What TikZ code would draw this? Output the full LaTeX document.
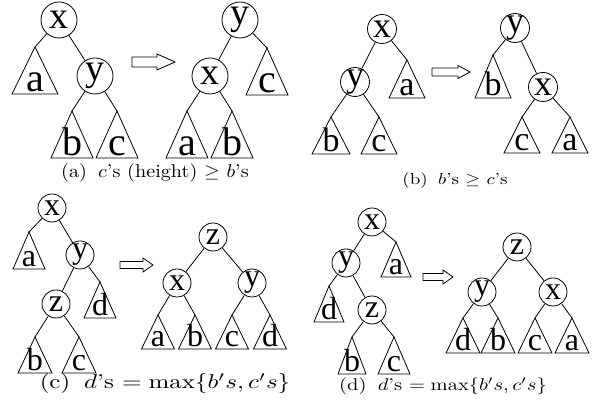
\documentclass[tikz,border=0pt]{standalone}
\usepackage{fontspec}
\newfontfamily\treefont{Liberation Serif}

\begin{document}
\begin{tikzpicture}[x=1pt,y=1pt,line width=0.8pt,
    avert/.style={circle,draw,inner sep=-2pt,minimum size=36pt,font=\treefont\fontsize{38}{38}\selectfont},
    bvert/.style={circle,draw,inner sep=-2pt,minimum size=29pt,font=\treefont\fontsize{36}{36}\selectfont},
    cvert/.style={circle,draw,inner sep=-2pt,minimum size=28pt,font=\treefont\fontsize{32}{32}\selectfont},
    aleaf/.style={anchor=base,inner sep=0pt,font=\treefont\fontsize{40}{40}\selectfont},
    bleaf/.style={anchor=base,inner sep=0pt,font=\treefont\fontsize{34}{34}\selectfont},
    cleaf/.style={anchor=base,inner sep=0pt,font=\treefont\fontsize{32}{32}\selectfont},
    subcap/.style={anchor=base,inner sep=0pt}]
  \useasboundingbox (0,0) rectangle (595,403);
  %
  \node[avert] (ax1) at (59,383) {x};
  \node[avert] (ay1) at (95,327) {y};
  \draw (35,356) coordinate (aa1) -- +(-23,-47) -- +(23,-47) -- cycle (35,311) node[aleaf] (laa1) {a};
  \draw (72,292) coordinate (ab1) -- +(-21,-47) -- +(21,-47) -- cycle (72,247) node[aleaf] (lab1) {b};
  \draw (117,292) coordinate (ac1) -- +(-21,-47) -- +(21,-47) -- cycle (117,247) node[aleaf] (lac1) {c};
  \draw (ax1) -- (aa1) (ax1) -- (ay1) (ay1) -- (ab1) (ay1) -- (ac1);
  %
  \draw (132,336) -- (157,336) -- (157,333) -- (175,341) -- (157,349) -- (157,346) -- (132,346) -- cycle;
  %
  \node[avert] (ay2) at (240,383) {y};
  \node[avert] (ax2) at (210,327) {x};
  \draw (267,355) coordinate (ac2) -- +(-21,-47) -- +(21,-47) -- cycle (267,310) node[aleaf] (lac2) {c};
  \draw (187,292) coordinate (aa2) -- +(-21,-47) -- +(21,-47) -- cycle (187,247) node[aleaf] (laa2) {a};
  \draw (232,292) coordinate (ab2) -- +(-21,-47) -- +(21,-47) -- cycle (232,247) node[aleaf] (lab2) {b};
  \draw (ay2) -- (ax2) (ay2) -- (ac2) (ax2) -- (aa2) (ax2) -- (ab2);
  %
  \node[subcap,xscale=2.02,yscale=1.85] (capa) at (155,225) {(a)\hspace{.55em}$c$'s (height) $\geq$ $b$'s};
  %
  \node[bvert] (bx1) at (382,374) {x};
  \node[bvert] (by1) at (355,321) {y};
  \draw (407,343) coordinate (ba1) -- +(-18,-38) -- +(18,-38) -- cycle (407,307) node[bleaf] (lba1) {a};
  \draw (331,286) coordinate (bb1) -- +(-19,-37) -- +(19,-37) -- cycle (331,251) node[bleaf] (lbb1) {b};
  \draw (379,286) coordinate (bc1) -- +(-18,-37) -- +(18,-37) -- cycle (379,251) node[bleaf] (lbc1) {c};
  \draw (bx1) -- (by1) (bx1) -- (ba1) (by1) -- (bb1) (by1) -- (bc1);
  %
  \draw (432,327) -- (458,327) -- (458,324.5) -- (470,331) -- (458,337.5) -- (458,335) -- (432,335) -- cycle;
  %
  \node[bvert] (by2) at (515,375) {y};
  \node[bvert] (bx2) at (543,316) {x};
  \draw (493,348) coordinate (bb2) -- +(-18,-43) -- +(18,-43) -- cycle (493,307) node[bleaf] (lbb2) {b};
  \draw (522,286) coordinate (bc2) -- +(-18,-36) -- +(18,-36) -- cycle (522,252) node[bleaf] (lbc2) {c};
  \draw (570,286) coordinate (ba2) -- +(-18,-36) -- +(18,-36) -- cycle (570,252) node[bleaf] (lba2) {a};
  \draw (by2) -- (bb2) (by2) -- (bx2) (bx2) -- (bc2) (bx2) -- (ba2);
  %
  \node[subcap,xscale=1.9,yscale=1.6] (capb) at (455,218) {(b)\hspace{.55em}$b$'s $\geq$ $c$'s};
  %
  \node[cvert] (cx1) at (52,195) {x};
  \node[cvert] (cy1) at (80,148) {y};
  \node[cvert] (cz1) at (56,99) {z};
  \draw (29,171) coordinate (ca1) -- +(-16,-37) -- +(16,-37) -- cycle (29,136) node[cleaf] (lca1) {a};
  \draw (100,121) coordinate (cd1) -- +(-16,-36) -- +(16,-36) -- cycle (100,87) node[cleaf] (lcd1) {d};
  \draw (35,66) coordinate (cb1) -- +(-17,-36) -- +(17,-36) -- cycle (35,32) node[cleaf] (lcb1) {b};
  \draw (79,66) coordinate (cc1) -- +(-17,-36) -- +(17,-36) -- cycle (79,32) node[cleaf] (lcc1) {c};
  \draw (cx1) -- (ca1) (cx1) -- (cy1) (cy1) -- (cz1) (cy1) -- (cd1) (cz1) -- (cb1) (cz1) -- (cc1);
  %
  \draw (120,134.5) -- (143,134.5) -- (143,131) -- (153,138) -- (143,145) -- (143,141.5) -- (120,141.5) -- cycle;
  %
  \node[cvert] (cz2) at (213,166) {z};
  \node[cvert] (cx2) at (177,120) {x};
  \node[cvert] (cy2) at (252,120) {y};
  \draw (158,88) coordinate (ca2) -- +(-16.5,-34) -- +(16.5,-34) -- cycle (158,56) node[cleaf] (lca2) {a};
  \draw (195,88) coordinate (cb2) -- +(-16.5,-34) -- +(16.5,-34) -- cycle (195,56) node[cleaf] (lcb2) {b};
  \draw (232,88) coordinate (cc2) -- +(-16.5,-34) -- +(16.5,-34) -- cycle (232,56) node[cleaf] (lcc2) {c};
  \draw (270,88) coordinate (cd2) -- +(-16.5,-34) -- +(16.5,-34) -- cycle (270,56) node[cleaf] (lcd2) {d};
  \draw (cz2) -- (cx2) (cz2) -- (cy2) (cx2) -- (ca2) (cx2) -- (cb2) (cy2) -- (cc2) (cy2) -- (cd2);
  %
  \node[subcap,xscale=2.5,yscale=2.0] (capc) at (165,14) {(c)\hspace{.55em}$d$'s $= \max\{b's, c's\}$};
  %
  \node[cvert] (dx1) at (372,181) {x};
  \node[cvert] (dy1) at (346,140) {y};
  \node[cvert] (dz1) at (372,93) {z};
  \draw (396,161) coordinate (da1) -- +(-15,-35) -- +(15,-35) -- cycle (396,128) node[cleaf] (lda1) {a};
  \draw (329,117) coordinate (dd1) -- +(-15,-36) -- +(15,-36) -- cycle (329,83) node[cleaf] (ldd1) {d};
  \draw (352,66) coordinate (db1) -- +(-14,-37) -- +(14,-37) -- cycle (352,31) node[cleaf] (ldb1) {b};
  \draw (394,66) coordinate (dc1) -- +(-16,-37) -- +(16,-37) -- cycle (394,31) node[cleaf] (ldc1) {c};
  \draw (dx1) -- (dy1) (dx1) -- (da1) (dy1) -- (dd1) (dy1) -- (dz1) (dz1) -- (db1) (dz1) -- (dc1);
  %
  \draw (423,122.5) -- (443,122.5) -- (443,119) -- (453,126) -- (443,133) -- (443,129.5) -- (423,129.5) -- cycle;
  %
  \node[cvert] (dz2) at (517,156) {z};
  \node[cvert] (dy2) at (482,111) {y};
  \node[cvert] (dx2) at (553,111) {x};
  \draw (463,85) coordinate (dd2) -- +(-17,-35) -- +(17,-35) -- cycle (463,52) node[cleaf] (ldd2) {d};
  \draw (498,85) coordinate (db2) -- +(-17,-35) -- +(17,-35) -- cycle (498,52) node[cleaf] (ldb2) {b};
  \draw (535,85) coordinate (dc2) -- +(-17,-35) -- +(17,-35) -- cycle (535,52) node[cleaf] (ldc2) {c};
  \draw (572,85) coordinate (da2) -- +(-17,-35) -- +(17,-35) -- cycle (572,52) node[cleaf] (lda2) {a};
  \draw (dz2) -- (dy2) (dz2) -- (dx2) (dy2) -- (dd2) (dy2) -- (db2) (dx2) -- (dc2) (dx2) -- (da2);
  %
  \node[subcap,xscale=2.05,yscale=1.7] (capd) at (443,12) {(d)\hspace{.55em}$d$'s $= \max\{b's, c's\}$};
  %
\end{tikzpicture}
\end{document}
